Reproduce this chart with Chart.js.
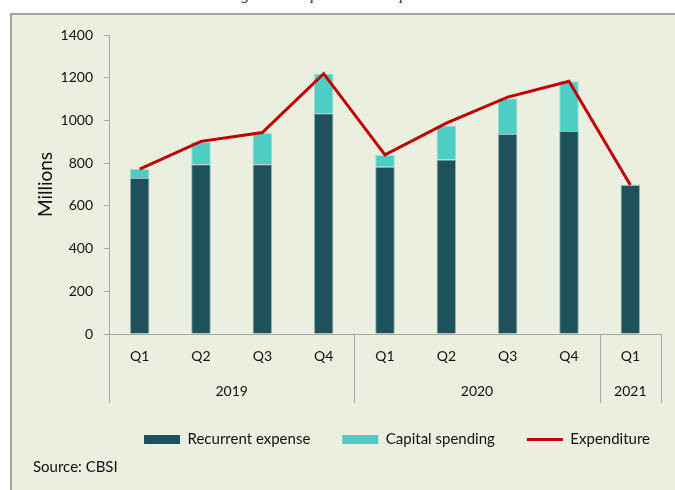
<!DOCTYPE html>
<html>
<head>
<meta charset="utf-8">
<script src="https://cdn.jsdelivr.net/npm/chart.js@4/dist/chart.umd.min.js"></script>
<style>
  html, body { margin: 0; padding: 0; background: #fff; }
  body { width: 675px; height: 490px; position: relative; overflow: hidden; font-family: Lato, "Open Sans", sans-serif; }
  #title { position: absolute; top: -13px; left: 0; width: 675px; text-align: center; font: italic 15px "Liberation Serif", serif; color: #222; }
  #panel { position: absolute; left: 10px; top: 13px; width: 700px; height: 500px; background: #ebefdf; border-top: 2px solid #a3a3a3; border-left: 2px solid #a3a3a3; }
  #chart-wrap { position: absolute; left: 0; top: 0; width: 675px; height: 490px; }
  #source { position: absolute; left: 33px; top: 457px; font-size: 15px; color: #111; }
</style>
</head>
<body>
<div id="title">Figure 3.5 Expenditure Components</div>
<div id="panel"></div>
<div id="chart-wrap"><canvas id="exp-chart" width="675" height="490"></canvas></div>
<div id="source">Source: CBSI</div>
<script>
const quarters = ["Q1", "Q2", "Q3", "Q4", "Q1", "Q2", "Q3", "Q4", "Q1"];
const yearLabels = ["2019", "2020", "2021"];
const yearSpans = [4, 4, 1];

const recurrent = [731, 795, 795, 1034, 783, 817, 936, 951, 698];
const capital = [42, 104, 146, 185, 55, 159, 168, 232, 2];
const expenditure = [772, 902, 943, 1219, 839, 987, 1109, 1183, 698];

const yTicks = [0, 200, 400, 600, 800, 1000, 1200, 1400];

const AXIS_GRAY = "#a6a6a6";
const TEXT = "#111";
const FONT = "Lato, 'Open Sans', sans-serif";

// year row under the quarter labels, with the group separators
const yearGroups = {
  id: "yearGroups",
  afterLayout(chart) {
    // legend sits a bit further right than the plot edge
    chart.legend.left += 21;
    chart.legend.right += 21;
  },
  afterDraw(chart) {
    const ctx = chart.ctx;
    const x = chart.scales.x;
    const half = (x.getPixelForValue(1) - x.getPixelForValue(0)) / 2;
    const top = chart.chartArea.bottom;
    const bottom = top + 69;

    ctx.save();
    ctx.strokeStyle = AXIS_GRAY;
    ctx.lineWidth = 1;
    ctx.fillStyle = TEXT;
    ctx.font = "14px " + FONT;
    ctx.textAlign = "center";
    ctx.textBaseline = "middle";

    let start = 0;
    const edges = [x.getPixelForValue(0) - half];
    yearSpans.forEach((span, i) => {
      const end = start + span - 1;
      const left = x.getPixelForValue(start) - half;
      const right = x.getPixelForValue(end) + half;
      edges.push(right);
      ctx.fillText(yearLabels[i], (left + right) / 2, top + 57);
      start += span;
    });
    for (const e of edges) {
      const px = Math.round(e) + 0.5;
      ctx.beginPath();
      ctx.moveTo(px, top);
      ctx.lineTo(px, bottom);
      ctx.stroke();
    }

    // y axis title
    ctx.translate(46, (chart.chartArea.top + chart.chartArea.bottom) / 2);
    ctx.rotate(-Math.PI / 2);
    ctx.font = "19px " + FONT;
    ctx.fillText("Millions", 0, 0);
    ctx.restore();
  },
};

new Chart(document.getElementById("exp-chart"), {
  type: "bar",
  data: {
    labels: quarters,
    datasets: [
      {
        label: "Recurrent expense",
        data: recurrent,
        backgroundColor: "#1d525c",
        borderColor: "#9fb6b6",
        borderWidth: 1,
        stack: "spend",
        order: 1,
      },
      {
        label: "Capital spending",
        data: capital,
        backgroundColor: "#4ecdc4",
        borderColor: "#a9dcd6",
        borderWidth: 1,
        stack: "spend",
        order: 1,
      },
      {
        type: "line",
        label: "Expenditure",
        data: expenditure,
        borderColor: "#c00000",
        backgroundColor: "#c00000",
        borderWidth: 3,
        pointRadius: 0,
        tension: 0,
        stack: "line",
        order: 0,
      },
    ],
  },
  options: {
    responsive: false,
    animation: false,
    layout: { padding: { left: 0, right: 14, top: 35, bottom: 33 } },
    datasets: {
      bar: { categoryPercentage: 1, barPercentage: 0.32 },
    },
    plugins: {
      tooltip: { enabled: false },
      legend: {
        position: "bottom",
        align: "end",
        labels: {
          usePointStyle: true,
          pointStyleWidth: 36,
          boxHeight: 9,
          padding: 32,
          color: TEXT,
          font: { family: FONT, size: 15 },
          sort: (a, b) => a.datasetIndex - b.datasetIndex,
          generateLabels(chart) {
            const items = Chart.defaults.plugins.legend.labels.generateLabels(chart);
            return items.map((it) => {
              const isLine = it.datasetIndex === 2;
              it.pointStyle = isLine ? "line" : "rect";
              it.lineWidth = isLine ? 3 : 0;
              it.strokeStyle = "#c00000";
              return it;
            });
          },
        },
      },
    },
    scales: {
      x: {
        stacked: true,
        grid: { display: false, drawTicks: false },
        border: { color: AXIS_GRAY },
        ticks: {
          padding: 14,
          color: TEXT,
          font: { family: FONT, size: 14 },
          maxRotation: 0,
        },
        afterFit(scale) {
          scale.height = 66;
        },
      },
      y: {
        stacked: true,
        min: 0,
        max: 1400,
        afterBuildTicks(scale) {
          scale.ticks = yTicks.map((v) => ({ value: v }));
        },
        grid: {
          drawOnChartArea: false,
          drawTicks: true,
          tickLength: 5,
          color: AXIS_GRAY,
        },
        border: { color: AXIS_GRAY },
        ticks: {
          padding: 11,
          color: TEXT,
          font: { family: FONT, size: 14 },
          callback: (v) => String(v),
        },
        afterFit(scale) {
          scale.width = 109;
        },
      },
    },
  },
  plugins: [yearGroups],
});
</script>
</body>
</html>
